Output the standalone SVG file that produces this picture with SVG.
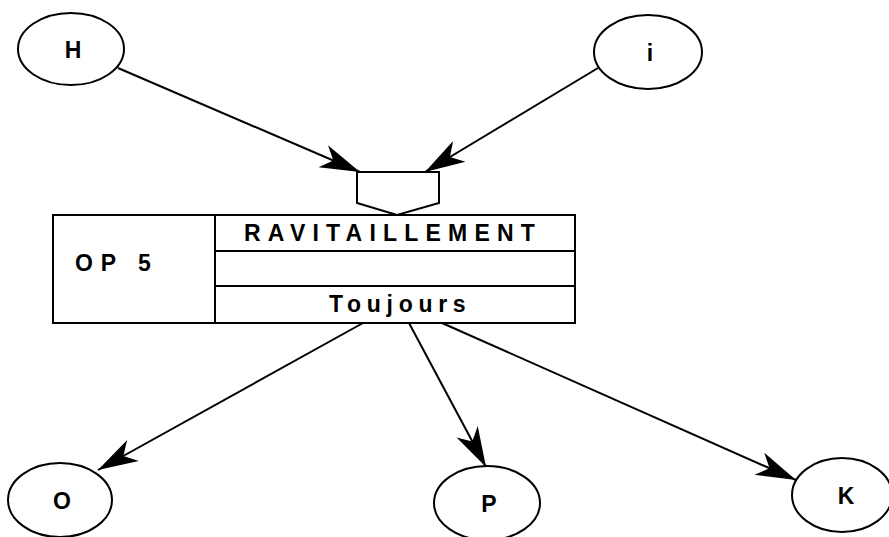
<svg xmlns="http://www.w3.org/2000/svg" width="889" height="537" viewBox="0 0 889 537">
<style>
.shape{fill:#fff;stroke:#000;stroke-width:2}
.conn{fill:none;stroke:#000;stroke-width:2}
.lbl{font-family:"Liberation Sans",Arial,sans-serif;font-weight:bold;fill:#000}
</style>
<defs>
<marker id="arr" markerUnits="userSpaceOnUse" viewBox="-42 -14 44 28" markerWidth="44" markerHeight="28" refX="0" refY="0" orient="auto">
<path d="M0,0 L-40,-12 L-29,0 L-40,12 Z" fill="#000"/>
</marker>
</defs>
<rect width="889" height="537" fill="#fff"/>
<g id="connectors">
<line class="conn" x1="118" y1="68" x2="360" y2="172" marker-end="url(#arr)"/>
<line class="conn" x1="598" y1="68" x2="425" y2="172" marker-end="url(#arr)"/>
<line class="conn" x1="363" y1="323" x2="98" y2="470" marker-end="url(#arr)"/>
<line class="conn" x1="409" y1="323" x2="486" y2="467" marker-end="url(#arr)"/>
<line class="conn" x1="442" y1="323" x2="796" y2="480" marker-end="url(#arr)"/>
</g>
<g id="node-H">
<ellipse class="shape" cx="71" cy="49" rx="53" ry="36"/>
<text class="lbl" font-size="23" x="73" y="58" text-anchor="middle">H</text>
</g>
<g id="node-i">
<ellipse class="shape" cx="648" cy="52" rx="54" ry="37"/>
<text class="lbl" font-size="23" x="650" y="61" text-anchor="middle">i</text>
</g>
<g id="node-junction">
<path class="shape" d="M357,172 L439,172 L439,203 L397,215 L357,203 Z"/>
</g>
<g id="node-OP5">
<rect class="shape" x="53" y="215" width="522" height="108"/>
<line class="conn" x1="215" y1="215" x2="215" y2="323"/>
<line class="conn" x1="215" y1="251" x2="576" y2="251"/>
<line class="conn" x1="215" y1="286" x2="576" y2="286"/>
<text class="lbl" font-size="23" x="75" y="271" letter-spacing="7.9">OP 5</text>
<text class="lbl" font-size="23" x="244" y="241" letter-spacing="7.2">RAVITAILLEMENT</text>
<text class="lbl" font-size="23" x="329" y="312" letter-spacing="5.7">Toujours</text>
</g>
<g id="node-O">
<ellipse class="shape" cx="60" cy="500" rx="52" ry="37"/>
<text class="lbl" font-size="23" x="62" y="509" text-anchor="middle">O</text>
</g>
<g id="node-P">
<ellipse class="shape" cx="487" cy="503" rx="53" ry="37"/>
<text class="lbl" font-size="23" x="489" y="512" text-anchor="middle">P</text>
</g>
<g id="node-K">
<ellipse class="shape" cx="842" cy="495" rx="50" ry="37"/>
<text class="lbl" font-size="23" x="846" y="504" text-anchor="middle">K</text>
</g>
</svg>
